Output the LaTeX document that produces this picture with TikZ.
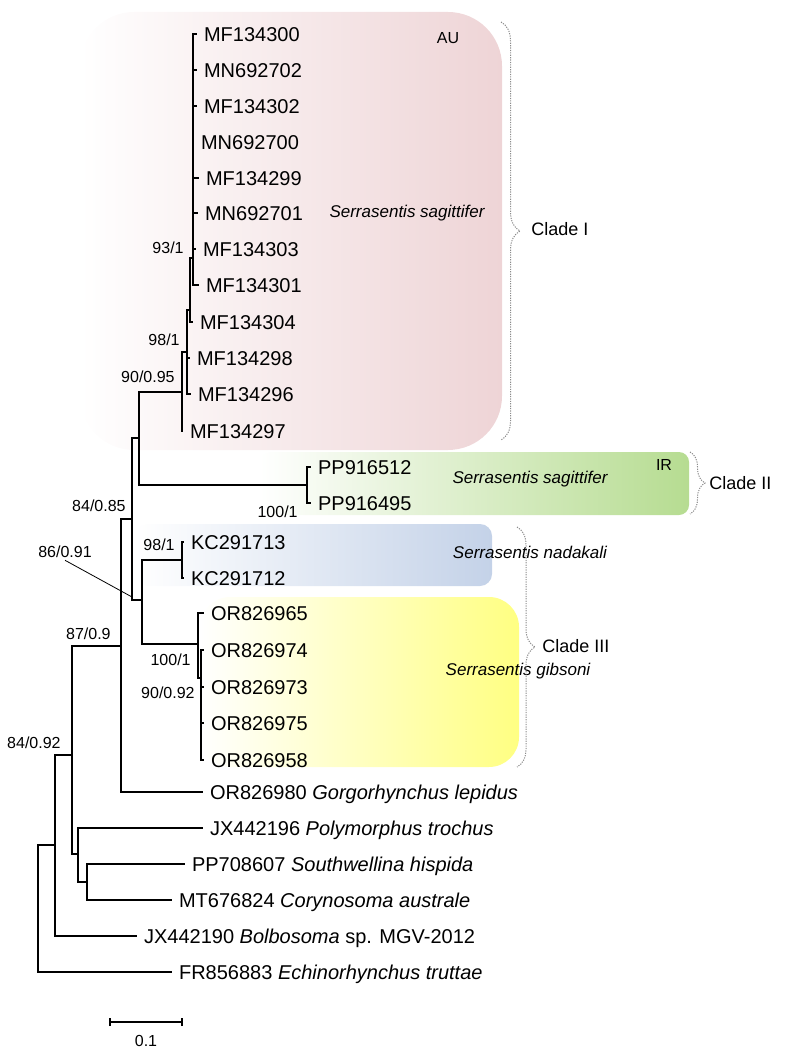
\documentclass[tikz,border=0pt]{standalone}
\usepackage{fontspec}
\setmainfont{Liberation Sans}
\usetikzlibrary{decorations.pathreplacing}

\definecolor{auPink}{RGB}{238,212,214}
\definecolor{irGreen}{RGB}{182,220,145}
\definecolor{nadBlue}{RGB}{196,210,232}
\definecolor{gibYellow}{RGB}{255,255,130}
\definecolor{braceGray}{RGB}{140,140,140}

\tikzset{
  br/.style={line width=1pt},
  tip/.style={anchor=west, font=\fontsize{10}{12}\selectfont, text height=7.2pt, text depth=0pt},
  bs/.style={font=\fontsize{8}{10}\selectfont, inner sep=1pt},
  sp/.style={font=\fontsize{8.5}{10}\selectfont\itshape},
  cladelab/.style={anchor=west, inner sep=0pt, font=\fontsize{9}{11}\selectfont},
  cbrace/.style={decorate, decoration={brace, amplitude=#1}, braceGray, line width=0.5pt, dash pattern=on 0.6pt off 0.6pt},
}

\begin{document}
\begin{tikzpicture}[x=0.5pt,y=-0.5pt]
\useasboundingbox (0,0) rectangle (792,1058);

% clade boxes
\shade[left color=white,right color=auPink,rounded corners=27pt] (80,12) rectangle (502,450);
\shade[left color=white,right color=irGreen,rounded corners=5pt] (260,452) rectangle (689,515);
\shade[left color=white,right color=nadBlue,rounded corners=6pt] (135,524) rectangle (492,586);
\shade[left color=white,right color=gibYellow,rounded corners=15pt] (200,597) rectangle (519,767);

% internal nodes
\coordinate (root) at (38,908);
\coordinate (nA) at (55,845);
\coordinate (nB) at (72,755);
\coordinate (nC) at (78,854);
\coordinate (nD) at (87,882);
\coordinate (nE) at (121,646);
\coordinate (nG) at (132,519);
\coordinate (nF) at (139,438);
\coordinate (nH) at (142,600);
\coordinate (nKC) at (182,560);
\coordinate (g1) at (198,644);
\coordinate (g2) at (201,678);
\coordinate (nPP) at (307,485);
\coordinate (c1) at (182,392);
\coordinate (c2) at (187,352);
\coordinate (c3) at (190,310);
\coordinate (c4) at (193,258);

\draw[br] (root) |- (nA);
\draw[br] (nA) |- (nB);
\draw[br] (nB) |- (nE);
\draw[br] (nB) |- (nC);
\draw[br] (nC) |- (nD);
\draw[br] (nE) |- (nG);
\draw[br] (nG) |- (nF);
\draw[br] (nG) |- (nH);
\draw[br] (nF) |- (c1);
\draw[br] (nF) |- (nPP);
\draw[br] (c1) |- (c2);
\draw[br] (c2) |- (c3);
\draw[br] (c3) |- (c4);
\draw[br] (nH) |- (nKC);
\draw[br] (nH) |- (g1);
\draw[br] (g1) |- (g2);

% Clade I tips
\node[tip] (MF134300) at (197,34) {MF134300};   \draw[br] (c4) |- (MF134300.west);
\node[tip] (MN692702) at (197,70) {MN692702};   \draw[br] (c4) |- (MN692702.west);
\node[tip] (MF134302) at (197,106) {MF134302};  \draw[br] (c4) |- (MF134302.west);
\node[tip] (MN692700) at (194,142) {MN692700};  \draw[br] (c4) |- (MN692700.west);
\node[tip] (MF134299) at (199,178) {MF134299};  \draw[br] (c4) |- (MF134299.west);
\node[tip] (MN692701) at (198,213) {MN692701};  \draw[br] (c4) |- (MN692701.west);
\node[tip] (MF134303) at (196,249) {MF134303};  \draw[br] (c4) |- (MF134303.west);
\node[tip] (MF134301) at (199,285) {MF134301};  \draw[br] (c4) |- (MF134301.west);
\node[tip] (MF134304) at (193,322) {MF134304};  \draw[br] (c3) |- (MF134304.west);
\node[tip] (MF134298) at (190,358) {MF134298};  \draw[br] (c2) |- (MF134298.west);
\node[tip] (MF134296) at (191,394) {MF134296};  \draw[br] (c2) |- (MF134296.west);
\node[tip] (MF134297) at (183,431) {MF134297};  \draw[br] (c1) |- (MF134297.west);

% Clade II tips
\node[tip] (PP916512) at (311,467) {PP916512};  \draw[br] (nPP) |- (PP916512.west);
\node[tip] (PP916495) at (311,503) {PP916495};  \draw[br] (nPP) |- (PP916495.west);

% Clade III tips
\node[tip] (KC291713) at (184,542) {KC291713};  \draw[br] (nKC) |- (KC291713.west);
\node[tip] (KC291712) at (184,578) {KC291712};  \draw[br] (nKC) |- (KC291712.west);
\node[tip] (OR826965) at (204,613) {OR826965};  \draw[br] (g1) |- (OR826965.west);
\node[tip] (OR826974) at (204,650) {OR826974};  \draw[br] (g2) |- (OR826974.west);
\node[tip] (OR826973) at (204,687) {OR826973};  \draw[br] (g2) |- (OR826973.west);
\node[tip] (OR826975) at (204,723) {OR826975};  \draw[br] (g2) |- (OR826975.west);
\node[tip] (OR826958) at (204,760) {OR826958};  \draw[br] (g2) |- (OR826958.west);

% outgroups
\node[tip] (OR826980) at (203,792) {OR826980 \textit{Gorgorhynchus lepidus}};  \draw[br] (nE) |- (OR826980.west);
\node[tip] (JX442196) at (203,828) {JX442196 \textit{Polymorphus trochus}};    \draw[br] (nC) |- (JX442196.west);
\node[tip] (PP708607) at (185,864) {PP708607 \textit{Southwellina hispida}};   \draw[br] (nD) |- (PP708607.west);
\node[tip] (MT676824) at (172,900) {MT676824 \textit{Corynosoma australe}};    \draw[br] (nD) |- (MT676824.west);
\node[tip] (JX442190) at (137,936) {JX442190 \textit{Bolbosoma} sp. MGV-2012}; \draw[br] (nA) |- (JX442190.west);
\node[tip] (FR856883) at (172,972) {FR856883 \textit{Echinorhynchus truttae}}; \draw[br] (root) |- (FR856883.west);

% support values
\node[bs, anchor=east] (s93) at (186,248) {93/1};
\node[bs, anchor=east] (s98a) at (182,340) {98/1};
\node[bs, anchor=east] (s90a) at (177,377) {90/0.95};
\node[bs, anchor=east] (s100a) at (300,512) {100/1};
\node[bs, anchor=east] (s98b) at (177,545) {98/1};
\node[bs, anchor=east] (s84a) at (128,506) {84/0.85};
\node[bs] (s86) at (65,552) {86/0.91};
\node[bs, anchor=east] (s87) at (113,634) {87/0.9};
\node[bs, anchor=east] (s100b) at (193,660) {100/1};
\node[bs, anchor=east] (s90b) at (197,693) {90/0.92};
\node[bs, anchor=east] (s84b) at (63,743) {84/0.92};
\coordinate (p86) at (132,597);
\draw[line width=0.4pt] (s86.south) -- (p86);

% box labels
\node[sp] (spAU) at (407,213) {Serrasentis sagittifer};
\node[sp] (spIR) at (530,479) {Serrasentis sagittifer};
\node[sp] (spNad) at (530,552) {Serrasentis nadakali};
\node[sp] (spGib) at (518,671) {Serrasentis gibsoni};
\node[bs] (AU) at (448,38) {AU};
\node[bs] (IR) at (664,465) {IR};

% clade braces
\coordinate (b1a) at (501,22);  \coordinate (b1b) at (501,440);
\coordinate (b2a) at (690,452); \coordinate (b2b) at (690,514);
\coordinate (b3a) at (517,527); \coordinate (b3b) at (517,767);
\draw[cbrace=9.5pt] (b1a) -- (b1b);
\draw[cbrace=7.5pt] (b2a) -- (b2b);
\draw[cbrace=9pt] (b3a) -- (b3b);
\node[cladelab] (cladeI) at (531,229) {Clade I};
\node[cladelab] (cladeII) at (709,483) {Clade II};
\node[cladelab] (cladeIII) at (542,646) {Clade III};

% scale bar
\coordinate (sbL) at (110,1022);
\coordinate (sbR) at (182,1022);
\draw[line width=0.6pt] (sbL) -- (sbR);
\draw[line width=0.6pt] ([yshift=-2pt]sbL) -- ([yshift=2pt]sbL);
\draw[line width=0.6pt] ([yshift=-2pt]sbR) -- ([yshift=2pt]sbR);
\node[bs] (sbLab) at (146,1041) {0.1};
\end{tikzpicture}
\end{document}
